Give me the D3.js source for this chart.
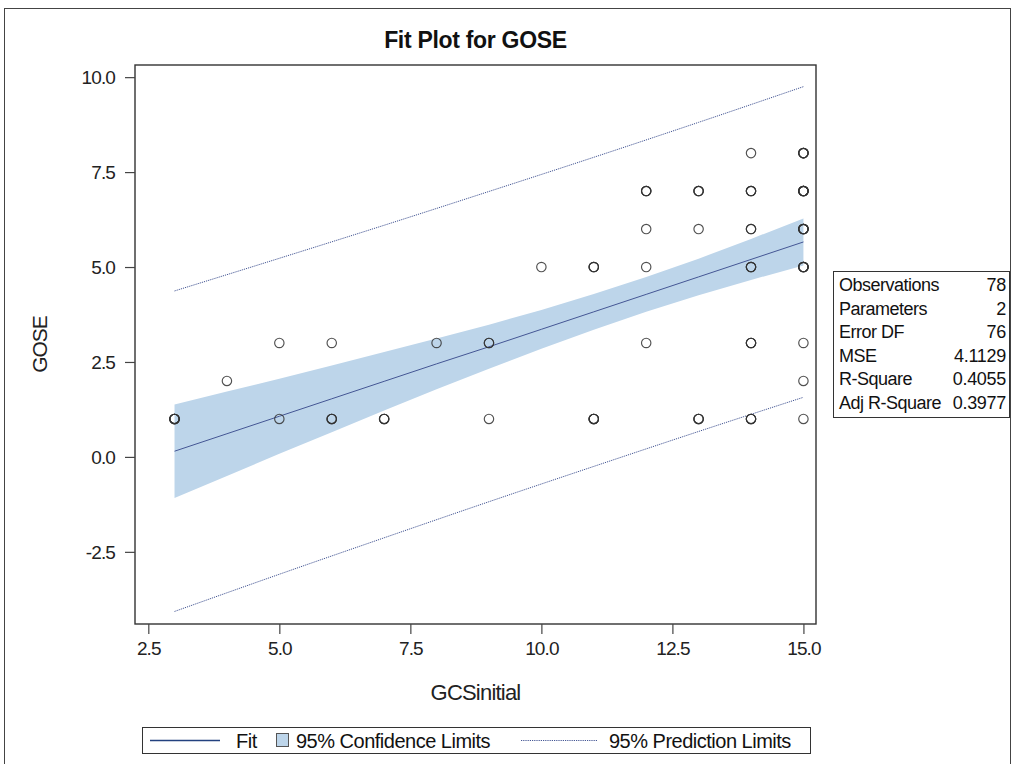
<!DOCTYPE html>
<html>
<head>
<meta charset="utf-8">
<script src="https://cdn.jsdelivr.net/npm/d3@7.9.0/dist/d3.min.js"></script>
<style>
  body { margin: 0; background: #fff; }
  svg { display: block; font-family: "Liberation Sans", Arial, sans-serif; }
</style>
</head>
<body>
<svg id="chart" width="1015" height="764"></svg>
<script>
// observed points: GCSinitial, GOSE, and how many patients sit on that spot
const gcs   = [3, 4, 5, 5, 6, 6, 7, 8, 9, 9, 10, 11, 11, 12, 12, 12, 12, 13, 13, 13, 14, 14, 14, 14, 14, 14, 15, 15, 15, 15, 15, 15, 15];
const gose  = [1, 2, 3, 1, 3, 1, 1, 3, 3, 1, 5, 5, 1, 7, 6, 5, 3, 7, 6, 1, 8, 7, 6, 5, 3, 1, 8, 7, 6, 5, 3, 2, 1];
const count = [5, 1, 1, 1, 1, 3, 3, 1, 2, 1, 1, 3, 4, 3, 1, 1, 1, 3, 1, 3, 1, 3, 2, 3, 3, 3, 4, 6, 5, 5, 1, 1, 1];

// fit line and 95% confidence band
const bandX    = [3, 4, 5, 6, 7, 8, 9, 10, 11, 12, 13, 14, 15];
const fitY     = [0.15, 0.61, 1.07, 1.53, 1.99, 2.45, 2.90, 3.36, 3.82, 4.28, 4.74, 5.20, 5.66];
const clmUpper = [1.38, 1.72, 2.06, 2.41, 2.76, 3.12, 3.48, 3.87, 4.29, 4.74, 5.22, 5.74, 6.28];
const clmLower = [-1.08, -0.50, 0.08, 0.65, 1.22, 1.78, 2.32, 2.85, 3.35, 3.82, 4.26, 4.66, 5.04];

// 95% prediction limits
const predX     = [3, 5, 7, 9, 11, 13, 15];
const predUpper = [4.37, 5.23, 6.10, 6.99, 7.89, 8.81, 9.75];
const predLower = [-4.07, -3.09, -2.13, -1.18, -0.25, 0.67, 1.57];

// axis ticks
const xTicks = [2.5, 5.0, 7.5, 10.0, 12.5, 15.0];
const yTicks = [-2.5, 0.0, 2.5, 5.0, 7.5, 10.0];

// fit statistics table
const statLabels = ['Observations', 'Parameters', 'Error DF', 'MSE', 'R-Square', 'Adj R-Square'];
const statValues = ['78', '2', '76', '4.1129', '0.4055', '0.3977'];

const lineColor = '#445694';
const bandColor = '#bdd5ea';

const svg = d3.select('#chart');

// outer frame of the graph
svg.append('rect')
  .attr('x', 4.5).attr('y', 8.5)
  .attr('width', 1006).attr('height', 770)
  .attr('fill', 'none').attr('stroke', '#444').attr('stroke-width', 1);

const plot = { left: 135, right: 816, top: 65, bottom: 624 };

const x = d3.scaleLinear().domain([2.246, 15.24]).range([plot.left, plot.right]);
const y = d3.scaleLinear().domain([-4.40, 10.32]).range([plot.bottom, plot.top]);

// title
svg.append('text')
  .attr('x', (plot.left + plot.right) / 2).attr('y', 48)
  .attr('text-anchor', 'middle')
  .style('font-size', '23px').style('font-weight', 'bold')
  .style('letter-spacing', '-0.3px')
  .attr('fill', '#111')
  .text('Fit Plot for GOSE');

// confidence band
const band = bandX.map((d, i) => ({ x: d, lo: clmLower[i], hi: clmUpper[i] }));
svg.append('path')
  .datum(band)
  .attr('fill', bandColor)
  .attr('d', d3.area().x(d => x(d.x)).y0(d => y(d.lo)).y1(d => y(d.hi)));

// fit line
const fitLine = d3.line().x(d => x(d[0])).y(d => y(d[1]));
svg.append('path')
  .datum(bandX.map((d, i) => [d, fitY[i]]))
  .attr('fill', 'none').attr('stroke', lineColor).attr('stroke-width', 1)
  .attr('d', fitLine);

// prediction limits
[predUpper, predLower].forEach(vals => {
  svg.append('path')
    .datum(predX.map((d, i) => [d, vals[i]]))
    .attr('fill', 'none').attr('stroke', lineColor).attr('stroke-width', 1)
    .attr('stroke-dasharray', '1.2,1')
    .attr('d', d3.line().x(d => x(d[0])).y(d => y(d[1])).curve(d3.curveMonotoneX));
});

// points (repeat overlapping ones so they look heavier)
const points = [];
gcs.forEach((g, i) => {
  for (let k = 0; k < count[i]; k++) points.push({ gcs: g, gose: gose[i] });
});
svg.append('g')
  .selectAll('circle')
  .data(points)
  .join('circle')
  .attr('cx', d => x(d.gcs))
  .attr('cy', d => y(d.gose))
  .attr('r', 4.7)
  .attr('fill', 'none')
  .attr('stroke', '#333')
  .attr('stroke-width', 1.15)
  .attr('stroke-opacity', 0.85);

// plot frame
svg.append('rect')
  .attr('x', plot.left).attr('y', plot.top)
  .attr('width', plot.right - plot.left).attr('height', plot.bottom - plot.top)
  .attr('fill', 'none').attr('stroke', '#333').attr('stroke-width', 1.4);

// axes
const fmt = d => d.toFixed(1);
const xAxis = svg.append('g')
  .attr('transform', `translate(0,${plot.bottom})`)
  .call(d3.axisBottom(x).tickValues(xTicks).tickFormat(fmt).tickSize(10).tickPadding(8));
const yAxis = svg.append('g')
  .attr('transform', `translate(${plot.left},0)`)
  .call(d3.axisLeft(y).tickValues(yTicks).tickFormat(fmt).tickSize(10).tickPadding(10));

[xAxis, yAxis].forEach(ax => {
  ax.select('.domain').remove();
  ax.selectAll('.tick line').attr('stroke', '#444').attr('stroke-width', 1.2);
  ax.selectAll('.tick text')
    .attr('fill', '#222')
    .style('font-size', '19px')
    .style('letter-spacing', '-0.9px')
    .style('font-family', '"Liberation Sans", Arial, sans-serif');
});
yAxis.selectAll('.tick text').attr('dy', '0.36em');

// axis titles
svg.append('text')
  .attr('x', (plot.left + plot.right) / 2).attr('y', 700)
  .attr('text-anchor', 'middle')
  .style('font-size', '22px').style('letter-spacing', '-0.8px')
  .attr('fill', '#222')
  .text('GCSinitial');

svg.append('text')
  .attr('transform', `translate(47,${(plot.top + plot.bottom) / 2}) rotate(-90)`)
  .attr('text-anchor', 'middle')
  .style('font-size', '21px').style('letter-spacing', '-1px')
  .attr('fill', '#222')
  .text('GOSE');

// statistics box
const stats = svg.append('g');
stats.append('rect')
  .attr('x', 833.5).attr('y', 271.5).attr('width', 176).attr('height', 146)
  .attr('fill', '#fff').attr('stroke', '#333').attr('stroke-width', 1);
statLabels.forEach((lab, i) => {
  const yy = 291 + i * 23.6;
  stats.append('text')
    .attr('x', 839).attr('y', yy)
    .style('font-size', '18px').style('letter-spacing', '-0.5px')
    .attr('fill', '#111')
    .text(lab);
  stats.append('text')
    .attr('x', 1006).attr('y', yy)
    .attr('text-anchor', 'end')
    .style('font-size', '18px').style('letter-spacing', '-0.3px')
    .attr('fill', '#111')
    .text(statValues[i]);
});

// legend
const leg = svg.append('g');
leg.append('rect')
  .attr('x', 142.5).attr('y', 727.5).attr('width', 668).attr('height', 26)
  .attr('fill', '#fff').attr('stroke', '#333').attr('stroke-width', 1);
leg.append('line')
  .attr('x1', 150).attr('x2', 220).attr('y1', 740.5).attr('y2', 740.5)
  .attr('stroke', '#23427f').attr('stroke-width', 1.3);
leg.append('text')
  .attr('x', 236).attr('y', 747.5)
  .style('font-size', '20px').style('letter-spacing', '-0.5px').attr('fill', '#111')
  .text('Fit');
leg.append('rect')
  .attr('x', 276.5).attr('y', 733.5).attr('width', 12).attr('height', 13)
  .attr('fill', bandColor).attr('stroke', '#555').attr('stroke-width', 1);
leg.append('text')
  .attr('x', 296).attr('y', 747.5)
  .style('font-size', '20px').style('letter-spacing', '-0.5px').attr('fill', '#111')
  .text('95% Confidence Limits');
leg.append('line')
  .attr('x1', 521).attr('x2', 598).attr('y1', 740.5).attr('y2', 740.5)
  .attr('stroke', lineColor).attr('stroke-width', 1).attr('stroke-dasharray', '1.2,1');
leg.append('text')
  .attr('x', 609).attr('y', 747.5)
  .style('font-size', '20px').style('letter-spacing', '-0.5px').attr('fill', '#111')
  .text('95% Prediction Limits');
</script>
</body>
</html>
